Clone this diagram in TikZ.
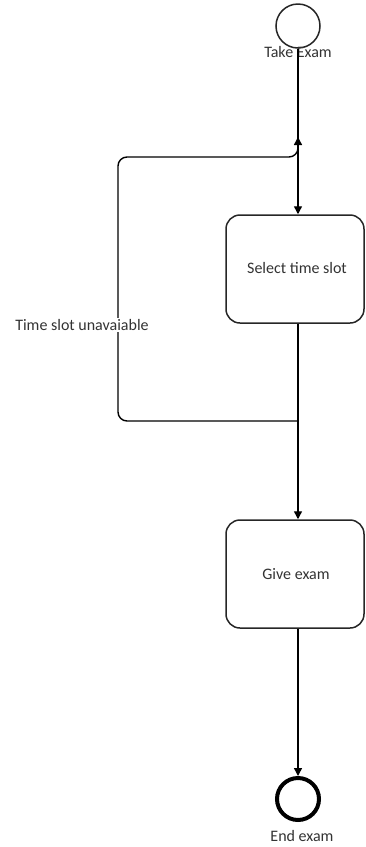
\documentclass[tikz,border=0pt]{standalone}
\usepackage{fontspec}
\setmainfont{Carlito}
\usetikzlibrary{arrows.meta}
\begin{document}
\begin{tikzpicture}[x=1pt,y=-1pt,
  every node/.style={font=\fontsize{16}{18}\selectfont, text=black!80},
  startstate/.style={circle, draw=black!85, line width=1.5pt, minimum size=44pt, inner sep=0pt},
  endstate/.style={circle, draw=black, line width=4pt, minimum size=42pt, inner sep=0pt},
  activity/.style={draw=black!85, line width=1.5pt, rounded corners=14pt, minimum width=138pt, minimum height=108pt},
  flow/.style={draw=black, line width=1.4pt, -{Triangle[length=8pt,width=8pt]}},
  guard/.style={fill=white, inner sep=1pt}]
\useasboundingbox (0,0) rectangle (365,847);

% states and activities
\node[startstate] (start) at (298,26) {};
\node (takelbl) at (298,52) {Take Exam};
\node[activity] (sel) at (295,269) {};
\node (sellbl) at (297,268) {Select time slot};
\node[activity] (give) at (295,574) {};
\node (givelbl) at (296,574) {Give exam};
\node[endstate] (end) at (298,799) {};
\node (endlbl) at (302,836) {End exam};

% junction points of the retry loop
\coordinate (merge) at (298,421);
\coordinate (rejoin) at (298,137);

% main flow
\draw[flow] (start.south) -- (start.south |- sel.north);
\draw[flow] (merge |- sel.south) -- (merge |- give.north);
\draw[flow] (merge |- give.south) -- (end.north);

% loop back when the slot is unavailable
\draw[flow, rounded corners=9pt] (merge) -- (118,421) -- (118,157) -- (298,157) -- (rejoin);
\node[guard] (guardlbl) at (82,325) {Time slot unavaiable};
\end{tikzpicture}
\end{document}
